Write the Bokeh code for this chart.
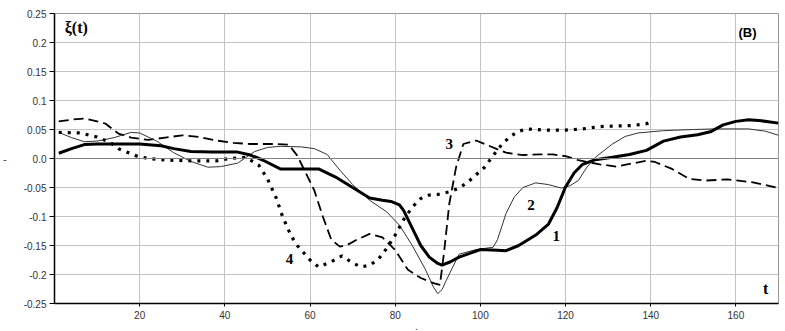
from bokeh.plotting import figure
from bokeh.models import FixedTicker, Span, Label
from bokeh.models import Axis
from bokeh.core.properties import value
from bokeh.embed import file_html
from bokeh.resources import INLINE

# ---------------- data ----------------
t1 = [1, 4, 7, 10, 15, 20, 25, 28, 32, 37, 43, 46, 49, 53, 57, 62, 66, 70, 74, 77,
      79, 81, 82, 84, 86, 88, 90, 91, 93, 95, 100, 104, 106, 109, 113, 116, 118,
      120, 122, 124, 127, 131, 135, 139, 143, 147, 151, 154, 157, 160, 163, 166, 170]
v1 = [0.009, 0.017, 0.024, 0.025, 0.025, 0.025, 0.022, 0.017, 0.012, 0.011, 0.011,
      0.006, -0.003, -0.018, -0.018, -0.018, -0.032, -0.050, -0.068, -0.072,
      -0.074, -0.080, -0.090, -0.120, -0.150, -0.170, -0.181, -0.184, -0.178,
      -0.170, -0.157, -0.158, -0.159, -0.150, -0.132, -0.113, -0.085, -0.049,
      -0.025, -0.010, -0.002, 0.002, 0.007, 0.014, 0.030, 0.037, 0.041, 0.046,
      0.058, 0.064, 0.067, 0.065, 0.061]

t2 = [1, 4, 7, 10, 14, 18, 20, 24, 28, 32, 36, 39, 43, 47, 50, 53, 58, 61, 64, 67,
      70, 74, 78, 81, 84, 87, 89, 90, 91, 92, 95, 99, 103, 104, 105, 106, 108, 110,
      113, 116, 119, 121, 123, 125, 127, 131, 134, 137, 143, 150, 155, 163, 167, 170]
v2 = [0.045, 0.036, 0.029, 0.030, 0.036, 0.045, 0.044, 0.030, 0.010, -0.005,
      -0.015, -0.014, -0.008, 0.012, 0.019, 0.021, 0.020, 0.017, 0.007, -0.020,
      -0.045, -0.072, -0.092, -0.115, -0.150, -0.190, -0.222, -0.233, -0.226,
      -0.210, -0.165, -0.157, -0.153, -0.140, -0.118, -0.095, -0.066, -0.050,
      -0.042, -0.045, -0.051, -0.047, -0.038, -0.015, 0.002, 0.025, 0.038, 0.044,
      0.048, 0.050, 0.051, 0.051, 0.047, 0.040]

t3 = [1, 4, 7, 10, 12, 15, 18, 22, 26, 30, 34, 38, 42, 46, 52, 55, 57, 59, 61, 63,
      65, 67, 69, 71, 74, 77, 80, 83, 86, 89, 90.5, 91.5, 92.7, 94.3, 96, 99, 102,
      106, 110, 114, 117, 120, 123, 128, 132, 136, 139, 141, 145, 149, 153, 158,
      164, 170]
v3 = [0.064, 0.067, 0.069, 0.064, 0.060, 0.043, 0.036, 0.032, 0.036, 0.040, 0.037,
      0.031, 0.027, 0.025, 0.025, 0.024, 0.005, -0.025, -0.055, -0.100, -0.140,
      -0.152, -0.148, -0.140, -0.130, -0.136, -0.158, -0.192, -0.206, -0.215,
      -0.218, -0.160, -0.078, -0.015, 0.025, 0.031, 0.022, 0.010, 0.006, 0.007,
      0.007, 0.004, -0.003, -0.010, -0.014, -0.008, -0.004, -0.006, -0.018,
      -0.035, -0.038, -0.036, -0.041, -0.051]

t4 = [1, 6, 10, 13, 15, 19, 22, 27, 32, 38, 41, 45, 48, 50, 52, 53.6, 55.6, 57, 60,
      62, 65, 67.5, 70, 72, 74, 76, 78, 80, 82, 84, 86, 88, 90, 93, 95, 97, 99, 101,
      103, 105, 107, 109, 111, 115, 120, 124, 128, 132, 136, 139, 140]
v4 = [0.045, 0.044, 0.037, 0.028, 0.017, 0.005, 0.000, -0.003, -0.004, -0.004,
      0.000, 0.002, -0.012, -0.035, -0.067, -0.101, -0.134, -0.150, -0.175, -0.187,
      -0.178, -0.168, -0.180, -0.187, -0.184, -0.174, -0.155, -0.132, -0.105,
      -0.084, -0.069, -0.063, -0.062, -0.057, -0.051, -0.041, -0.028, -0.015,
      0.005, 0.024, 0.038, 0.047, 0.051, 0.049, 0.049, 0.051, 0.055, 0.056, 0.057,
      0.060, 0.063]

x_ticks = [20, 40, 60, 80, 100, 120, 140, 160]
y_ticks = [0.25, 0.2, 0.15, 0.1, 0.05, 0.0, -0.05, -0.1, -0.15, -0.2, -0.25]
y_tick_labels = ["0.25", "0.2", "0.15", "0.1", "0.05", "0.0",
                 "-0.05", "-0.1", "-0.15", "-0.2", "-0.25"]

curve_names = ["1", "2", "3", "4"]
name_t = [117.8, 111.9, 92.7, 55.2]
name_v = [-0.133, -0.081, 0.025, -0.173]

# ---------------- figure ----------------
p = figure(frame_width=724, frame_height=290,
           x_range=(0, 170), y_range=(-0.25, 0.25),
           output_backend="svg", toolbar_location=None,
           min_border_left=54, min_border_right=6,
           min_border_top=13, min_border_bottom=26)
p.background_fill_color = "white"
p.border_fill_color = "white"
p.outline_line_color = "#9a9a9a"
p.outline_line_width = 1

p.xaxis.ticker = FixedTicker(ticks=x_ticks)
p.yaxis.ticker = FixedTicker(ticks=y_ticks)
p.yaxis.major_label_overrides = {v: s for v, s in zip(y_ticks, y_tick_labels)}
p.xaxis.minor_tick_line_color = None
p.yaxis.minor_tick_line_color = None
for ax in (p.xaxis, p.yaxis):
    ax.axis_line_color = "black"
    ax.axis_line_width = 1.5
    ax.major_tick_line_color = "black"
    ax.major_tick_in = 0
    ax.major_label_text_font = "Liberation Sans"
    ax.major_label_text_font_size = "10px"
    ax.major_label_text_color = "#333333"
p.yaxis.major_tick_out = 5
p.xaxis.major_tick_out = 3
p.yaxis.major_label_standoff = 3
p.xaxis.major_label_standoff = 4

p.yaxis.axis_label = "-"
p.yaxis.axis_label_text_font = "Liberation Sans"
p.yaxis.axis_label_text_font_size = "11px"
p.yaxis.axis_label_text_font_style = "normal"
p.yaxis.axis_label_standoff = 14
if "axis_label_orientation" in Axis.properties():
    p.yaxis.axis_label_orientation = "horizontal"

p.xaxis.axis_label = "."
p.xaxis.axis_label_text_font = "Liberation Sans"
p.xaxis.axis_label_text_font_size = "10px"
p.xaxis.axis_label_text_font_style = "normal"
p.xaxis.axis_label_standoff = 0

p.xgrid.grid_line_color = "#c4c4c4"
p.ygrid.grid_line_color = "#c4c4c4"
p.xgrid.grid_line_width = 1
p.ygrid.grid_line_width = 1

p.add_layout(Span(location=0, dimension="width", line_color="#808080", line_width=1))

# curves
p.line(t3, v3, line_color="black", line_width=1.8, line_dash="10 5")
p.line(t2, v2, line_color="#333333", line_width=1)
p.line(t4, v4, line_color="black", line_width=3.2, line_dash="3 6")
p.line(t1, v1, line_color="black", line_width=3)

p.text(x=name_t, y=name_v, text=curve_names, text_font=value("Liberation Serif"),
       text_font_size="15px", text_font_style="bold", text_align="center",
       text_baseline="middle", text_color="black")

p.add_layout(Label(x=2.4, y=0.226, text="ξ(t)", text_font="Liberation Serif",
                   text_font_size="16px", text_font_style="bold",
                   text_baseline="middle", text_align="left", text_color="black"))
p.add_layout(Label(x=160.6, y=0.217, text="(B)", text_font="Liberation Sans",
                   text_font_size="13px", text_font_style="bold",
                   text_baseline="middle", text_align="left", text_color="black"))
p.add_layout(Label(x=167.0, y=-0.224, text="t", text_font="Liberation Serif",
                   text_font_size="16px", text_font_style="bold",
                   text_baseline="middle", text_align="center", text_color="black"))

open("out.html", "w").write(file_html(p, INLINE))
